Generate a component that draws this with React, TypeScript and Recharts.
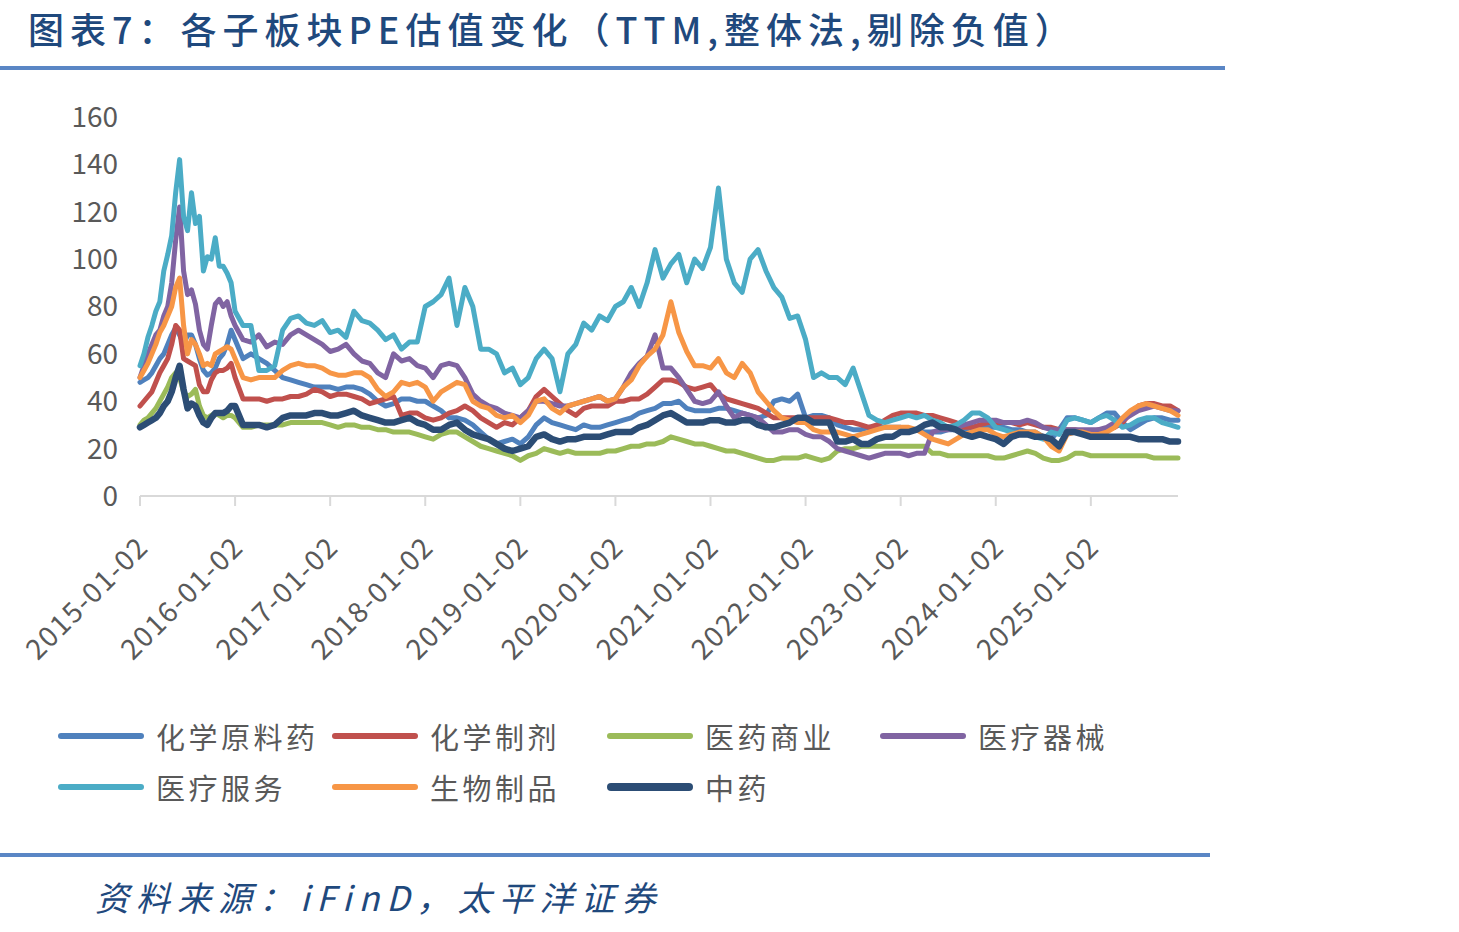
import { LineChart, Line, XAxis, YAxis } from "recharts";

// x positions in months since 2015-01-02 (half-month steps in 2015, monthly after)
const months: number[] = [];
for (let i = 0; i < 24; i++) months.push(i * 0.5);
for (let m = 12; m <= 131; m++) months.push(m);

const yearTicks = [0, 12, 24, 36, 48, 60, 72, 84, 96, 108, 120];
const yearLabels = [
    "2015-01-02", "2016-01-02", "2017-01-02", "2018-01-02", "2019-01-02", "2020-01-02",
    "2021-01-02", "2022-01-02", "2023-01-02", "2024-01-02", "2025-01-02",
];
const yTicks = [0, 20, 40, 60, 80, 100, 120, 140, 160];

const chemApi = [
    48, 49, 50, 52, 55, 58, 60, 64, 68, 71, 68, 64, 68, 68, 64, 58, 53, 51, 52, 54, 58, 60, 64, 70,
    66, 58, 60, 58, 56, 53, 50, 49, 48, 47, 46, 46,
    46, 45, 46, 46, 45, 43, 40, 38, 39, 41, 41, 40,
    40, 38, 36, 33, 33, 32, 30, 27, 24, 22, 23, 24,
    22, 25, 30, 33, 31, 30, 29, 28, 30, 29, 29, 30,
    31, 32, 33, 35, 36, 37, 39, 39, 40, 37, 36, 36,
    36, 37, 37, 36, 35, 34, 33, 34, 40, 41, 40, 43,
    33, 34, 34, 33, 30, 29, 28, 28, 29, 29, 29, 29,
    29, 28, 28, 27, 27, 27, 28, 28, 28, 29, 29, 29,
    29, 29, 28, 28, 27, 27, 25, 24, 28, 33, 33, 32,
    31, 33, 35, 35, 31, 28, 30, 32, 33, 33, 32, 32,
];
const chemPrep = [
    38, 40, 42, 44, 48, 52, 55, 58, 64, 72, 70, 58, 57, 56, 55, 47, 44, 44, 49, 52, 53, 53, 54, 56,
    50, 41, 41, 41, 40, 41, 41, 42, 42, 43, 45, 44,
    42, 43, 43, 42, 41, 39, 40, 41, 42, 34, 35, 35,
    33, 32, 33, 35, 36, 38, 36, 33, 31, 29, 31, 30,
    33, 36, 42, 45, 42, 39, 36, 34, 37, 38, 38, 38,
    40, 40, 41, 41, 43, 46, 49, 49, 48, 46, 45, 46,
    47, 43, 41, 40, 39, 38, 37, 35, 33, 33, 33, 33,
    33, 33, 33, 33, 32, 31, 31, 30, 29, 30, 32, 34,
    35, 35, 35, 34, 34, 33, 32, 31, 29, 29, 30, 31,
    31, 31, 31, 30, 31, 30, 29, 29, 28, 28, 28, 27,
    27, 28, 28, 29, 31, 35, 38, 39, 39, 38, 38, 36,
];
const pharmaTrade = [
    30, 32, 33, 35, 37, 40, 43, 46, 50, 52, 50, 44, 42, 43, 45, 38, 34, 33, 34, 35, 34, 33, 34, 34,
    33, 29, 29, 30, 30, 30, 30, 31, 31, 31, 31, 31,
    30, 29, 30, 30, 29, 29, 28, 28, 27, 27, 27, 26,
    25, 24, 26, 27, 27, 25, 23, 21, 20, 19, 18, 17,
    15, 17, 18, 20, 19, 18, 19, 18, 18, 18, 18, 19,
    19, 20, 21, 21, 22, 22, 23, 25, 24, 23, 22, 22,
    21, 20, 19, 19, 18, 17, 16, 15, 15, 16, 16, 16,
    17, 16, 15, 16, 19, 20, 20, 21, 21, 21, 21, 21,
    21, 21, 21, 21, 18, 18, 17, 17, 17, 17, 17, 17,
    16, 16, 17, 18, 19, 18, 16, 15, 15, 16, 18, 18,
    17, 17, 17, 17, 17, 17, 17, 17, 16, 16, 16, 16,
];
const devices = [
    50, 55, 60, 64, 68, 70, 76, 80, 90, 108, 122, 95, 85, 87, 81, 70, 64, 62, 72, 81, 83, 80, 82, 76,
    72, 66, 65, 68, 63, 65, 64, 68, 70, 68, 66, 64,
    61, 62, 64, 60, 57, 56, 52, 50, 60, 57, 58, 55,
    54, 50, 55, 56, 55, 50, 43, 40, 38, 37, 35, 34,
    33, 36, 40, 40, 39, 38, 38, 39, 40, 41, 42, 40,
    41, 46, 52, 56, 59, 68, 54, 54, 50, 45, 40, 39,
    40, 44, 38, 33, 35, 34, 33, 30, 27, 27, 28, 28,
    26, 25, 25, 23, 20, 19, 18, 17, 16, 17, 18, 18,
    18, 17, 18, 18, 27, 28, 28, 29, 30, 31, 32, 32,
    32, 31, 31, 31, 32, 31, 29, 28, 28, 28, 28, 28,
    28, 28, 29, 31, 32, 34, 36, 37, 38, 37, 36, 36,
];
const services = [
    55, 60, 67, 72, 78, 82, 95, 102, 110, 128, 142, 118, 112, 128, 115, 118, 95, 101, 100, 109, 97, 97, 94, 90,
    78, 72, 72, 53, 53, 55, 70, 75, 76, 73, 72, 74,
    69, 70, 67, 78, 74, 73, 70, 66, 68, 62, 65, 65,
    80, 82, 85, 92, 72, 88, 80, 62, 62, 60, 52, 54,
    47, 50, 58, 62, 58, 44, 60, 64, 73, 70, 76, 74,
    80, 82, 88, 80, 90, 104, 92, 98, 102, 90, 100, 96,
    105, 130, 100, 90, 86, 100, 104, 95, 88, 84, 75, 76,
    66, 50, 52, 50, 50, 47, 54, 44, 34, 32, 31, 32,
    33, 34, 33, 34, 32, 31, 29, 30, 32, 35, 35, 33,
    29, 28, 27, 26, 26, 25, 24, 27, 26, 32, 33, 32,
    31, 33, 34, 32, 29, 30, 32, 33, 33, 31, 30, 29,
];
const biologics = [
    50, 53, 56, 60, 64, 69, 72, 76, 80, 88, 92, 72, 60, 66, 64, 60, 55, 56, 55, 60, 61, 62, 63, 62,
    58, 50, 49, 50, 50, 50, 53, 55, 56, 55, 55, 54,
    52, 51, 51, 52, 52, 50, 45, 42, 44, 48, 47, 48,
    46, 40, 44, 46, 48, 47, 40, 38, 37, 34, 33, 34,
    31, 34, 40, 41, 37, 35, 38, 39, 40, 41, 42, 40,
    41, 46, 49, 55, 59, 62, 68, 82, 69, 61, 55, 55,
    54, 58, 52, 50, 56, 52, 44, 40, 36, 33, 32, 31,
    31, 28, 27, 27, 27, 26, 25, 26, 27, 28, 29, 29,
    29, 29, 28, 26, 24, 23, 22, 24, 26, 27, 28, 28,
    26, 25, 26, 27, 27, 27, 25, 21, 19, 26, 27, 27,
    26, 26, 27, 29, 33, 36, 38, 39, 38, 37, 36, 34,
];
const tcm = [
    29, 30, 31, 32, 33, 35, 38, 40, 44, 50, 55, 45, 37, 39, 38, 34, 31, 30, 33, 35, 35, 35, 36, 38,
    38, 30, 30, 30, 29, 30, 33, 34, 34, 34, 35, 35,
    34, 34, 35, 36, 34, 33, 32, 31, 31, 32, 33, 31,
    30, 28, 28, 30, 31, 28, 26, 25, 24, 22, 20, 19,
    20, 21, 25, 26, 24, 23, 24, 24, 25, 25, 25, 26,
    27, 27, 27, 29, 30, 32, 34, 35, 33, 31, 31, 31,
    32, 32, 31, 31, 32, 32, 30, 29, 29, 30, 31, 33,
    33, 31, 31, 31, 23, 23, 24, 22, 22, 24, 25, 25,
    27, 27, 28, 30, 31, 29, 29, 28, 26, 25, 26, 25,
    24, 22, 25, 26, 26, 25, 25, 24, 21, 27, 27, 26,
    25, 25, 25, 25, 25, 25, 24, 24, 24, 24, 23, 23,
];

const series = [
    { key: "chemApi", name: "化学原料药", color: "#4F81BD", values: chemApi, width: 5 },
    { key: "chemPrep", name: "化学制剂", color: "#C0504D", values: chemPrep, width: 5 },
    { key: "pharmaTrade", name: "医药商业", color: "#9BBB59", values: pharmaTrade, width: 5 },
    { key: "devices", name: "医疗器械", color: "#8064A2", values: devices, width: 5 },
    { key: "services", name: "医疗服务", color: "#4BACC6", values: services, width: 5 },
    { key: "biologics", name: "生物制品", color: "#F79646", values: biologics, width: 5 },
    { key: "tcm", name: "中药", color: "#2C4D75", values: tcm, width: 6.5 },
];

const data = months.map((m, i) => {
    const row: Record<string, number> = { m };
    series.forEach((s) => {
        row[s.key] = s.values[i];
    });
    return row;
});

// legend slots: [left, centerY]
const legendSlots = [
    [58, 736], [332, 736], [607, 736], [880, 736],
    [58, 787], [332, 787], [607, 787],
];

const FONT = '"Noto Sans CJK SC", "Noto Sans", sans-serif';
const DARK_BLUE = "#1F497D";

function XTick(props: any) {
    const { x, y, payload } = props;
    const idx = yearTicks.indexOf(payload.value);
    const tx = x + 10;
    const ty = y + 43;
    return (
        <text
            x={tx}
            y={ty}
            textAnchor="end"
            fill="#595959"
            fontSize={28}
            letterSpacing={1.5}
            fontFamily={FONT}
            transform={`rotate(-45 ${tx} ${ty})`}
        >
            {yearLabels[idx]}
        </text>
    );
}

export default function App() {
    return (
        <div
            style={{
                position: "absolute",
                left: 0,
                top: 0,
                width: 1459,
                height: 932,
                background: "#fff",
                fontFamily: FONT,
                overflow: "hidden",
            }}
        >
            <div
                style={{
                    position: "absolute",
                    left: 28,
                    top: 8,
                    height: 40,
                    lineHeight: "40px",
                    fontSize: 36,
                    fontWeight: 500,
                    letterSpacing: 6,
                    color: DARK_BLUE,
                    whiteSpace: "nowrap",
                }}
            >
                图表7：各子板块PE估值变化（TTM,整体法,剔除负值）
            </div>
            <div
                style={{
                    position: "absolute",
                    left: 0,
                    top: 66,
                    width: 1225,
                    height: 4,
                    background: "#5A86C5",
                }}
            />

            <div style={{ position: "absolute", left: 0, top: 0 }}>
                <LineChart
                    width={1200}
                    height={700}
                    data={data}
                    margin={{ top: 117, right: 22, left: 0, bottom: 0 }}
                >
                    <XAxis
                        dataKey="m"
                        type="number"
                        domain={[0, 131]}
                        ticks={yearTicks}
                        interval={0}
                        height={204}
                        tickSize={10}
                        tickMargin={0}
                        axisLine={{ stroke: "#D9D9D9", strokeWidth: 2 }}
                        tickLine={{ stroke: "#D9D9D9", strokeWidth: 2 }}
                        tick={<XTick />}
                    />
                    <YAxis
                        domain={[0, 160]}
                        ticks={yTicks}
                        interval={0}
                        width={140}
                        tickSize={0}
                        tickMargin={22}
                        axisLine={false}
                        tickLine={false}
                        tick={{ fill: "#595959", fontSize: 28, fontFamily: FONT }}
                    />
                    {series.map((s) => (
                        <Line
                            key={s.key}
                            type="linear"
                            dataKey={s.key}
                            name={s.name}
                            stroke={s.color}
                            strokeWidth={s.width}
                            strokeLinejoin="round"
                            strokeLinecap="round"
                            dot={false}
                            activeDot={false}
                            isAnimationActive={false}
                        />
                    ))}
                </LineChart>
            </div>

            {series.map((s, i) => (
                <div
                    key={s.key}
                    style={{
                        position: "absolute",
                        left: legendSlots[i][0],
                        top: legendSlots[i][1] - 20,
                        height: 40,
                        display: "flex",
                        alignItems: "center",
                        whiteSpace: "nowrap",
                    }}
                >
                    <span
                        style={{
                            display: "inline-block",
                            width: 86,
                            height: s.key === "tcm" ? 8 : 6,
                            borderRadius: 4,
                            background: s.color,
                            marginRight: 12,
                        }}
                    />
                    <span style={{ fontSize: 29, letterSpacing: 3.5, color: "#595959" }}>
                        {s.name}
                    </span>
                </div>
            ))}

            <div
                style={{
                    position: "absolute",
                    left: 0,
                    top: 853,
                    width: 1210,
                    height: 4,
                    background: "#5A86C5",
                }}
            />
            <div
                style={{
                    position: "absolute",
                    left: 95,
                    top: 876,
                    height: 42,
                    lineHeight: "42px",
                    fontSize: 34,
                    letterSpacing: 7,
                    fontStyle: "italic",
                    color: DARK_BLUE,
                    whiteSpace: "nowrap",
                }}
            >
                资料来源：iFinD，太平洋证券
            </div>
        </div>
    );
}
